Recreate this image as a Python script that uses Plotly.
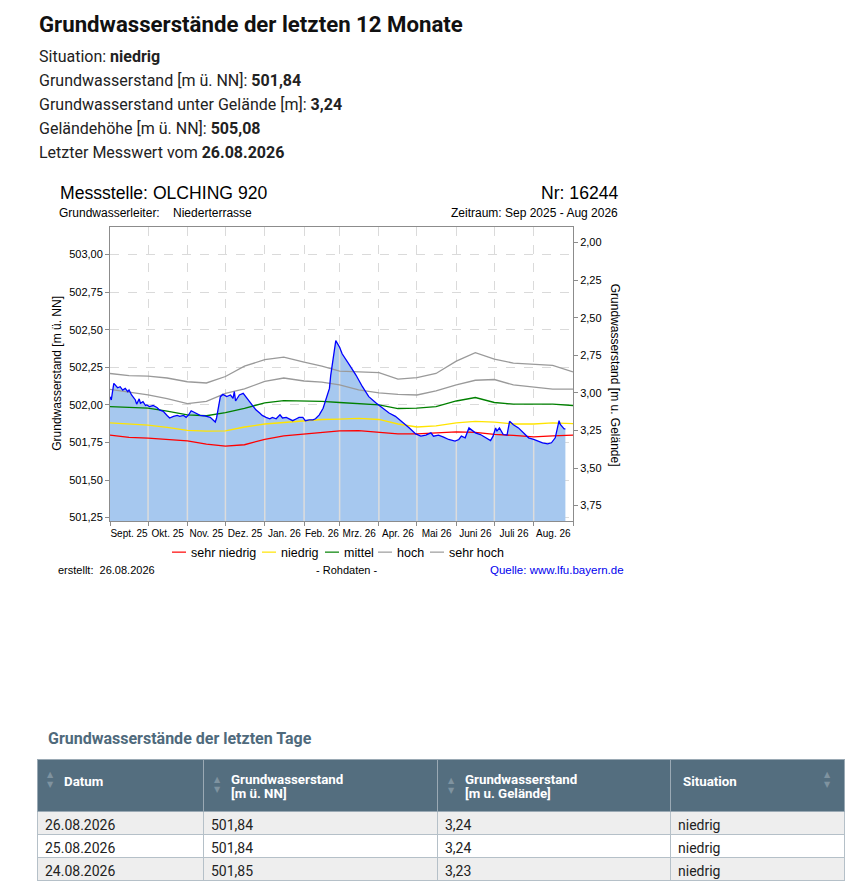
import numpy as np
import pandas as pd
import plotly.graph_objects as go

# figure is 16px smaller than the window because the html body keeps its 8px margin
W, H = 840, 879
OFF = 8


def px(x):
    return (x - OFF) / W


def py(y):
    return 1 - (y - OFF) / H


GELAENDE = 505.08
Y_MIN, Y_MAX = 501.228, 503.182

# Grundwasserstand [m ü. NN]
mess_datum = [
    "2025-09-01", "2025-09-02", "2025-09-04", "2025-09-05", "2025-09-07", "2025-09-09",
    "2025-09-11", "2025-09-13", "2025-09-15", "2025-09-16", "2025-09-18", "2025-09-21",
    "2025-09-22", "2025-09-24", "2025-09-25", "2025-09-27", "2025-09-29", "2025-09-30",
    "2025-10-02", "2025-10-05", "2025-10-08", "2025-10-10", "2025-10-13", "2025-10-16",
    "2025-10-18", "2025-10-21", "2025-10-24", "2025-10-26", "2025-10-29", "2025-10-31",
    "2025-11-02", "2025-11-04", "2025-11-06", "2025-11-08", "2025-11-11", "2025-11-14",
    "2025-11-16", "2025-11-19", "2025-11-23", "2025-11-24", "2025-11-27", "2025-11-29",
    "2025-12-02", "2025-12-05", "2025-12-07", "2025-12-08", "2025-12-09", "2025-12-12",
    "2025-12-15", "2025-12-17", "2025-12-20", "2025-12-22", "2025-12-25", "2025-12-28",
    "2025-12-30", "2026-01-02", "2026-01-05", "2026-01-07", "2026-01-10", "2026-01-13",
    "2026-01-15", "2026-01-18", "2026-01-20", "2026-01-23", "2026-01-26", "2026-01-28",
    "2026-01-31", "2026-02-02", "2026-02-05", "2026-02-08", "2026-02-10", "2026-02-13",
    "2026-02-16", "2026-02-18", "2026-02-21", "2026-02-22", "2026-02-24", "2026-02-26",
    "2026-03-01", "2026-03-03", "2026-03-09", "2026-03-14", "2026-03-19", "2026-03-24",
    "2026-03-30", "2026-04-04", "2026-04-09", "2026-04-14", "2026-04-19", "2026-04-25",
    "2026-04-30", "2026-05-04", "2026-05-08", "2026-05-12", "2026-05-14", "2026-05-18",
    "2026-05-22", "2026-05-26", "2026-05-31", "2026-06-03", "2026-06-05", "2026-06-08",
    "2026-06-11", "2026-06-13", "2026-06-16", "2026-06-20", "2026-06-24", "2026-06-28",
    "2026-06-30", "2026-07-02", "2026-07-03", "2026-07-05", "2026-07-08", "2026-07-11",
    "2026-07-13", "2026-07-16", "2026-07-20", "2026-07-24", "2026-07-28", "2026-08-01",
    "2026-08-04", "2026-08-08", "2026-08-12", "2026-08-15", "2026-08-18", "2026-08-20",
    "2026-08-21", "2026-08-22", "2026-08-23", "2026-08-24", "2026-08-25", "2026-08-26",
]
mess_wert = [
    502.055, 502.033, 502.143, 502.132, 502.114, 502.121,
    502.099, 502.110, 502.088, 502.099, 502.066, 502.033,
    502.005, 502.040, 502.011, 502.022, 501.996, 502.000,
    501.989, 501.996, 501.983, 501.967, 501.957, 501.930,
    501.913, 501.924, 501.930, 501.924, 501.930, 501.917,
    501.934, 501.961, 501.952, 501.946, 501.930, 501.928,
    501.924, 501.917, 501.886, 501.913, 502.055, 502.070,
    502.055, 502.066, 502.044, 502.088, 502.026, 502.066,
    502.077, 502.055, 502.022, 501.996, 501.967, 501.946,
    501.930, 501.917, 501.908, 501.917, 501.908, 501.934,
    501.913, 501.917, 501.908, 501.895, 501.908, 501.917,
    501.917, 501.895, 501.901, 501.901, 501.908, 501.934,
    501.978, 502.033, 502.110, 502.197, 502.329, 502.428,
    502.384, 502.340, 502.263, 502.197, 502.121, 502.055,
    502.011, 501.978, 501.946, 501.924, 501.891, 501.847,
    501.807, 501.792, 501.799, 501.814, 501.792, 501.799,
    501.786, 501.770, 501.759, 501.770, 501.792, 501.781,
    501.847, 501.836, 501.814, 501.803, 501.781, 501.763,
    501.792, 501.847, 501.825, 501.847, 501.803, 501.799,
    501.891, 501.868, 501.847, 501.814, 501.781, 501.770,
    501.759, 501.748, 501.741, 501.748, 501.781, 501.847,
    501.895, 501.870, 501.858, 501.850, 501.840, 501.840,
]

# long-term statistics
stat_datum = [
    "2025-09-01", "2025-09-16", "2025-10-01", "2025-10-16", "2025-11-01", "2025-11-16",
    "2025-12-01", "2025-12-16", "2026-01-01", "2026-01-16", "2026-02-01", "2026-02-15",
    "2026-03-01", "2026-03-16", "2026-04-01", "2026-04-16", "2026-05-01", "2026-05-16",
    "2026-06-01", "2026-06-16", "2026-07-01", "2026-07-16", "2026-08-01", "2026-08-16",
    "2026-09-01",
]
sehr_niedrig = [
    501.799, 501.784, 501.779, 501.771, 501.761, 501.739, 501.726, 501.735, 501.771,
    501.794, 501.807, 501.817, 501.827, 501.829, 501.820, 501.807, 501.807, 501.811,
    501.820, 501.817, 501.804, 501.797, 501.787, 501.794, 501.799,
]
niedrig = [
    501.880, 501.871, 501.866, 501.851, 501.830, 501.826, 501.827, 501.853, 501.873,
    501.883, 501.896, 501.903, 501.906, 501.911, 501.903, 501.873, 501.853, 501.860,
    501.880, 501.891, 501.886, 501.873, 501.873, 501.880, 501.876,
]
mittel = [
    501.989, 501.985, 501.978, 501.959, 501.934, 501.928, 501.949, 501.977, 502.014,
    502.029, 502.028, 502.023, 502.016, 502.008, 502.000, 501.976, 501.978, 501.988,
    502.026, 502.049, 502.016, 502.005, 502.005, 502.005, 501.996,
]
hoch = [
    502.103, 502.084, 502.067, 502.042, 502.008, 502.024, 502.077, 502.107, 502.156,
    502.179, 502.159, 502.151, 502.133, 502.100, 502.080, 502.070, 502.066, 502.093,
    502.133, 502.164, 502.169, 502.133, 502.116, 502.105, 502.105,
]
sehr_hoch = [
    502.209, 502.195, 502.192, 502.179, 502.154, 502.146, 502.189, 502.258, 502.301,
    502.318, 502.284, 502.258, 502.225, 502.220, 502.215, 502.172, 502.182, 502.209,
    502.291, 502.347, 502.304, 502.278, 502.271, 502.263, 502.220,
]

monat_text = ["Sept. 25", "Okt. 25", "Nov. 25", "Dez. 25", "Jan. 26", "Feb. 26",
              "Mrz. 26", "Apr. 26", "Mai 26", "Juni 26", "Juli 26", "Aug. 26"]
y_ticks = [501.25, 501.50, 501.75, 502.00, 502.25, 502.50, 502.75, 503.00]
y2_ticks = [2.00, 2.25, 2.50, 2.75, 3.00, 3.25, 3.50, 3.75]

tabelle_kopf = [["Datum"], ["Grundwasserstand", "[m ü. NN]"],
                ["Grundwasserstand", "[m u. Gelände]"], ["Situation"]]
tabelle_datum = ["26.08.2026", "25.08.2026", "24.08.2026"]
tabelle_nn = ["501,84", "501,84", "501,85"]
tabelle_gel = ["3,24", "3,24", "3,23"]
tabelle_sit = ["niedrig", "niedrig", "niedrig"]

CHART_FONT = "Liberation Sans"
PAGE_FONT = "Roboto"
AXIS_COL = "#8c8c8c"
GRID_COL = "#dadada"

mess_dt = pd.to_datetime(mess_datum)
monat_start = pd.date_range("2025-09-01", "2026-09-01", freq="MS")
monat_mitte = monat_start[:-1] + (monat_start[1:] - monat_start[:-1]) / 2

fig = go.Figure()

# filled area under the measured level
fig.add_trace(go.Scatter(x=mess_dt, y=mess_wert, mode="lines", fill="tozeroy",
                         fillcolor="#A6C8EF", line=dict(width=0), hoverinfo="skip"))

# light month separators inside the filled area
t_mess = mess_dt.values.astype("int64")
vx, vy = [], []
for d in monat_start[1:-1]:
    top = np.interp(d.value, t_mess, mess_wert)
    vx += [d, d, None]
    vy += [Y_MIN, top, None]
fig.add_trace(go.Scatter(x=vx, y=vy, mode="lines", line=dict(color="#dcdcdc", width=1.5),
                         hoverinfo="skip"))

statistik = [
    ("sehr niedrig", sehr_niedrig, "#FF0000"),
    ("niedrig", niedrig, "#FFE400"),
    ("mittel", mittel, "#008000"),
    ("hoch", hoch, "#9a9a9a"),
    ("sehr hoch", sehr_hoch, "#9a9a9a"),
]
for name, werte, farbe in statistik:
    fig.add_trace(go.Scatter(x=pd.to_datetime(stat_datum), y=werte, mode="lines", name=name,
                             line=dict(color=farbe, width=1.3)))

fig.add_trace(go.Scatter(x=mess_dt, y=mess_wert, mode="lines", name="Grundwasserstand",
                         line=dict(color="#0000FF", width=1.3)))

# same series as depth below ground, keeps the right axis alive
fig.add_trace(go.Scatter(x=mess_dt, y=[GELAENDE - v for v in mess_wert], yaxis="y2",
                         mode="lines", line=dict(width=0), hoverinfo="skip"))

# table of the last days (header text is placed with annotations below)
fig.add_trace(go.Table(
    domain=dict(x=[px(37), px(844)], y=[py(885), py(762)]),
    columnwidth=[166, 234, 233, 174],
    header=dict(values=["", "", "", ""], fill_color="#546E7F", line_color="#9aa9b4",
                height=52, font=dict(family=PAGE_FONT, size=13, color="white")),
    cells=dict(
        values=[tabelle_datum, tabelle_nn, tabelle_gel, tabelle_sit],
        fill_color=[["#EEEEEE", "#FFFFFF", "#EEEEEE"]] * 4,
        line_color="#b5c0c8", align="left", height=23,
        font=dict(family=PAGE_FONT, size=14, color="#222222")),
))

ann = []
shapes = []


def text(x, y, s, size, anchor="left", font=CHART_FONT, color="#000000", angle=0):
    ann.append(dict(x=px(x), y=py(y), xref="paper", yref="paper", text=s, showarrow=False,
                    xanchor=anchor, yanchor="middle", textangle=angle,
                    font=dict(family=font, size=size, color=color)))


# page header
text(37, 24, "<b>Grundwasserstände der letzten 12 Monate</b>", 22.2, font=PAGE_FONT, color="#111111")
text(37, 57, "Situation: <b>niedrig</b>", 16, font=PAGE_FONT, color="#222222")
text(37, 81, "Grundwasserstand [m ü. NN]: <b>501,84</b>", 16, font=PAGE_FONT, color="#222222")
text(37, 105, "Grundwasserstand unter Gelände [m]: <b>3,24</b>", 16, font=PAGE_FONT, color="#222222")
text(37, 129, "Geländehöhe [m ü. NN]: <b>505,08</b>", 16, font=PAGE_FONT, color="#222222")
text(37, 153, "Letzter Messwert vom <b>26.08.2026</b>", 16, font=PAGE_FONT, color="#222222")

# chart header and footer
text(58, 194, "Messstelle: OLCHING 920", 17.6)
text(620, 194, "Nr: 16244", 17.6, anchor="right")
text(57, 214, "Grundwasserleiter:\u00a0\u00a0\u00a0 Niederterrasse", 12)
text(620, 214, "Zeitraum: Sep 2025 - Aug 2026", 12, anchor="right")
text(57, 375, "Grundwasserstand [m ü. NN]", 12, anchor="center", angle=-90)
text(615, 376, "Grundwasserstand [m u. Gelände]", 12, anchor="center", angle=90)

# legend: short coloured line + label
legende_x = [172, 262, 325, 378, 430]
for lx, (name, _, farbe) in zip(legende_x, statistik):
    shapes.append(dict(type="line", xref="paper", yref="paper",
                       x0=px(lx), x1=px(lx + 14), y0=py(554), y1=py(554),
                       line=dict(color=farbe, width=1.2)))
    text(lx + 17, 555, name, 12.5)

text(56, 572, "erstellt:\u00a0 26.08.2026", 11)
text(346.5, 572, "- Rohdaten -", 11, anchor="center")
text(626, 572, "Quelle: www.lfu.bayern.de", 11.5, anchor="right", color="#0000EE")

# table title, header text and sort arrows
text(46, 741, "<b>Grundwasserstände der letzten Tage</b>", 16, font=PAGE_FONT, color="#4f6a7c")
kopf_x = [62, 229, 463, 681]
for kx, zeilen in zip(kopf_x, tabelle_kopf):
    ky0 = 784 if len(zeilen) == 1 else 782
    for i, z in enumerate(zeilen):
        text(kx, ky0 + 14.3 * i, f"<b>{z}</b>", 13.3, font=PAGE_FONT, color="#ffffff")
for ax, ay in [(50, 782), (217, 787), (451, 788), (827, 782)]:
    text(ax, ay, "▲<br>▼", 8, anchor="center", font="DejaVu Sans", color="#7f93a0")

fig.update_layout(
    width=W, height=H,
    margin=dict(l=0, r=0, t=0, b=0),
    paper_bgcolor="white", plot_bgcolor="white",
    separators=",.",
    showlegend=False,
    annotations=ann,
    shapes=shapes,
    xaxis=dict(
        domain=[px(110), px(573)], type="date", range=["2025-09-01", "2026-09-01"],
        tickmode="array", tickvals=monat_mitte, ticktext=monat_text,
        ticks="outside", ticklen=3, tickcolor="rgba(0,0,0,0)",
        showgrid=False, zeroline=False, showline=True, linecolor=AXIS_COL, mirror=True,
        tickfont=dict(family=CHART_FONT, size=10, color="#000000"),
        minor=dict(tickmode="linear", tick0="2025-09-01", dtick="M1", ticks="outside",
                   ticklen=4, tickcolor=AXIS_COL, showgrid=True, gridcolor=GRID_COL,
                   griddash="dash"),
    ),
    yaxis=dict(
        domain=[py(522.7), py(228)], range=[Y_MIN, Y_MAX],
        tickmode="array", tickvals=y_ticks, tickformat=".2f",
        ticks="outside", ticklen=4, tickcolor=AXIS_COL,
        showline=True, linecolor=AXIS_COL, zeroline=False,
        gridcolor=GRID_COL, griddash="dash",
        tickfont=dict(family=CHART_FONT, size=11, color="#000000"),
    ),
    yaxis2=dict(
        overlaying="y", side="right", anchor="x",
        range=[GELAENDE - Y_MIN, GELAENDE - Y_MAX],
        tickmode="array", tickvals=y2_ticks, tickformat=".2f",
        ticks="outside", ticklen=4, tickcolor=AXIS_COL,
        showline=True, linecolor=AXIS_COL, showgrid=False, zeroline=False,
        tickfont=dict(family=CHART_FONT, size=11, color="#000000"),
    ),
)

fig.write_html("out.html")
